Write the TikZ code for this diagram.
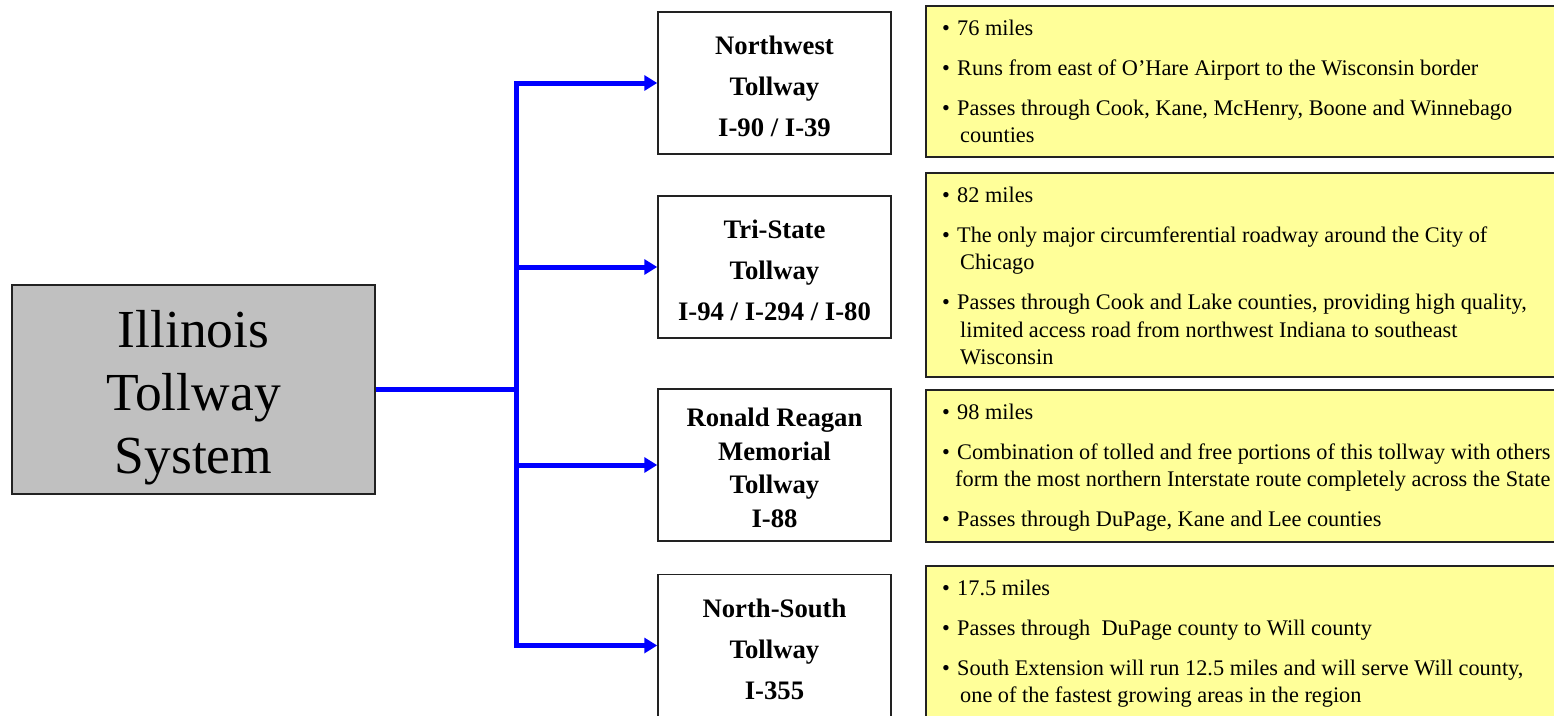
\documentclass[tikz,border=0pt]{standalone}
\usepackage{fontspec}
\setmainfont{Liberation Serif}
\usetikzlibrary{arrows.meta,positioning}

\definecolor{sysgray}{HTML}{C0C0C0}
\definecolor{notefill}{HTML}{FFFF99}
\definecolor{edge}{HTML}{222222}

\newcommand{\itm}{\makebox[15pt][l]{\textbullet}}
\newcommand{\cont}{\hspace*{18pt}}
\newcommand{\lift}[1]{\rule{0pt}{#1}}

\begin{document}
\begin{tikzpicture}[
    x=1pt, y=-1pt,
    sysbox/.style={rectangle, draw=edge, line width=1.5pt, fill=sysgray, minimum width=363, minimum height=209, align=center, font=\fontsize{53.5}{63}\selectfont},
    road/.style={rectangle, draw=edge, line width=1.5pt, fill=white, minimum width=233, minimum height=142, align=center, font=\fontsize{26.7}{41}\selectfont\bfseries},
    notebox/.style={rectangle, draw=edge, line width=1.5pt, fill=notefill, minimum width=640, anchor=north west},
    notes/.style={anchor=north west, inner sep=0pt, align=left, font=\fontsize{22.3}{27.4}\selectfont},
    link/.style={draw=blue, line width=5pt},
    tip/.style={-{Triangle[length=13pt,width=15pt]}}
]
\clip (0,0) rectangle (1554,715);

\node[sysbox] (sys) at (193.5,389.5) {\lift{53pt}Illinois\\Tollway\\System};

\node[road] (nw) at (774.5,83) {\lift{26pt}Northwest\\Tollway\\I-90 / I-39};
\node[road] (ts) at (774.5,267) {\lift{26pt}Tri-State\\Tollway\\I-94 / I-294 / I-80};
\node[road, minimum height=152, font=\fontsize{26.7}{33.5}\selectfont\bfseries] (rr) at (774.5,465) {\lift{24pt}Ronald Reagan\\Memorial\\Tollway\\I-88};
\node[road] (ns) at (774.5,645.5) {\lift{26pt}North-South\\Tollway\\I-355};

\node[notebox, minimum height=151] (y1) at (925,5) {};
\node[notebox, minimum height=204] (y2) at (925,172) {};
\node[notebox, minimum height=152] (y3) at (925,389) {};
\node[notebox, minimum height=155] (y4) at (925,565) {};

\node[notes] (t1) at ([xshift=17pt, yshift=-15pt]y1.north west) {%
\itm 76 miles\\[12.5pt]
\itm Runs from east of O’Hare Airport to the Wisconsin border\\[12.5pt]
\itm Passes through Cook, Kane, McHenry, Boone and Winnebago\\
\cont counties};
\node[notes] (t2) at ([xshift=17pt, yshift=-15pt]y2.north west) {%
\itm 82 miles\\[12.5pt]
\itm The only major circumferential roadway around the City of\\
\cont Chicago\\[12.5pt]
\itm Passes through Cook and Lake counties, providing high quality,\\
\cont limited access road from northwest Indiana to southeast\\
\cont Wisconsin};
\node[notes] (t3) at ([xshift=17pt, yshift=-15pt]y3.north west) {%
\itm 98 miles\\[12.5pt]
\itm Combination of tolled and free portions of this tollway with others\\
\hspace*{13pt}form the most northern Interstate route completely across the State\\[12.5pt]
\itm Passes through DuPage, Kane and Lee counties};
\node[notes] (t4) at ([xshift=17pt, yshift=-15pt]y4.north west) {%
\itm 17.5 miles\\[12.5pt]
\itm Passes through \ DuPage county to Will county\\[12.5pt]
\itm South Extension will run 12.5 miles and will serve Will county,\\
\cont one of the fastest growing areas in the region};

% trunk and branches
\coordinate (fork) at ([xshift=141pt]sys.east);
\draw[link] (sys.east) -- (fork);
\foreach \r in {nw,ts,rr,ns}
  \draw[link, tip] (fork) |- (\r.west);

\end{tikzpicture}
\end{document}
